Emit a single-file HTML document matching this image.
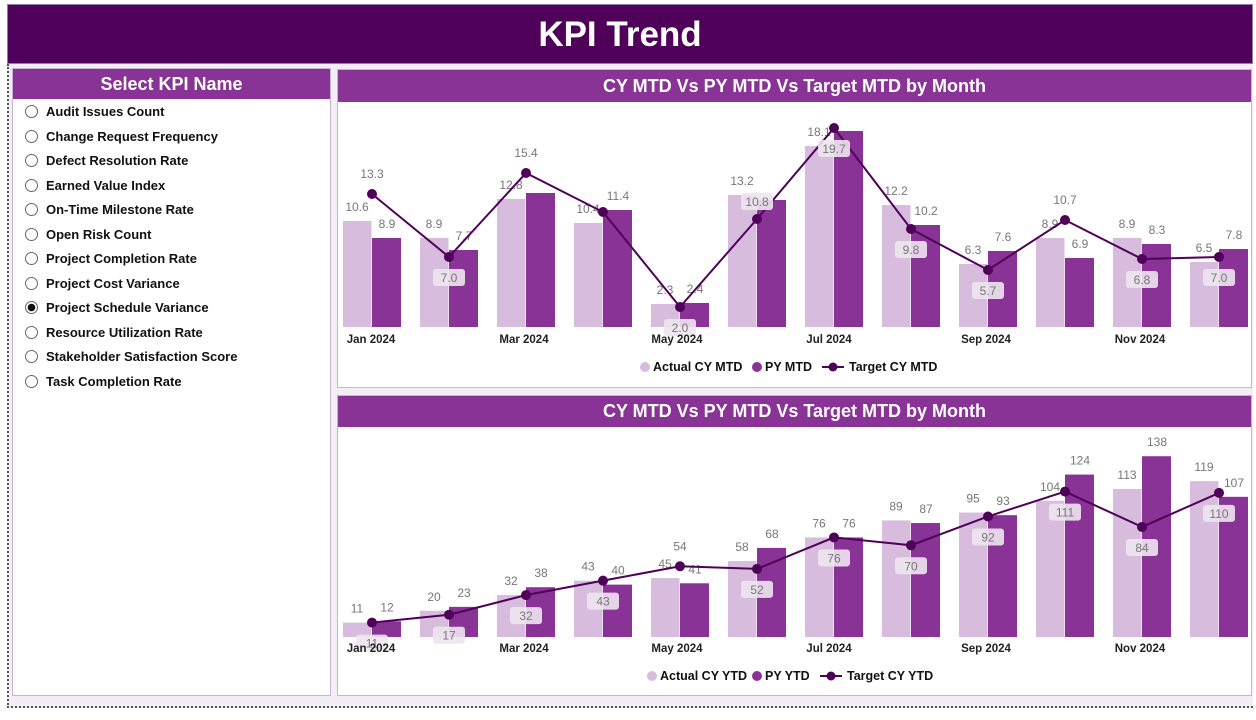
<!DOCTYPE html>
<html><head><meta charset="utf-8">
<style>
*{margin:0;padding:0;box-sizing:border-box}
body{width:1256px;height:720px;overflow:hidden;background:#fff;font-family:"Liberation Sans",sans-serif;position:relative}
#bg{position:absolute;left:7px;top:64px;width:1246px;height:644px;background:#F3EDF6;border-left:2px dotted #555;border-bottom:2px dotted #555}
#hdr{position:absolute;left:7px;top:4px;width:1246px;height:60px;background:#4F0058;border:1px solid #8a7fb0;color:#fff;font-weight:bold;font-size:35px;text-align:center;line-height:60px;text-indent:-20px}
.panel{position:absolute;background:#fff;border:1px solid #C9B3D3}
.ph{background:#8A3396;color:#fff;font-weight:bold;font-size:18px;text-align:center}
.item{position:absolute;left:18px;font-size:13px;font-weight:bold;color:#111}
.item i{position:absolute;left:-6px;top:1px;width:13px;height:13px;border:1px solid #666;border-radius:50%}
.item span{position:absolute;left:15px;top:0;white-space:nowrap}
svg text{font-family:"Liberation Sans",sans-serif}
</style></head><body>
<div id="bg"></div>
<div id="hdr">KPI Trend</div>
<div class="panel" style="left:12px;top:68px;width:319px;height:628px">
<div class="ph" style="height:30px;line-height:30px">Select KPI Name</div>
<div id="items"></div>
</div>
<div class="panel" style="left:337px;top:69px;width:915px;height:319px">
<div class="ph" style="height:32px;line-height:32px">CY MTD Vs PY MTD Vs Target MTD by Month</div></div>
<div class="panel" style="left:337px;top:395px;width:915px;height:301px">
<div class="ph" style="height:31px;line-height:31px">CY MTD Vs PY MTD Vs Target MTD by Month</div></div>
<svg id="s" width="1256" height="720" style="position:absolute;left:0;top:0"></svg>
<script>
var names=["Audit Issues Count","Change Request Frequency","Defect Resolution Rate","Earned Value Index","On-Time Milestone Rate","Open Risk Count","Project Completion Rate","Project Cost Variance","Project Schedule Variance","Resource Utilization Rate","Stakeholder Satisfaction Score","Task Completion Rate"];
var h="";names.forEach(function(n,i){var sel=i==8;h+='<div class="item" style="top:'+(35+i*24.5)+'px"><i style="'+(sel?'background:radial-gradient(circle,#111 0 3.5px,#fff 4px)':'')+'"></i><span>'+n+'</span></div>';});
document.getElementById("items").innerHTML=h;
var s="";var L="#D7BCDD",D="#8A3396",T="#4F0058";
function chart(base,sc,A,P,Tg,fmt,tl,xy,leg,PL,TL){
 var pts=[];
 for(var i=0;i<12;i++){var c=372+i*77;
  var ha=A[i]*sc,hp=P[i]*sc;
  s+='<rect x="'+(c-29)+'" y="'+(base-ha)+'" width="28.5" height="'+ha+'" fill="'+L+'"/>';
  s+='<rect x="'+c+'" y="'+(base-hp)+'" width="29" height="'+hp+'" fill="'+D+'"/>';
  s+='<text x="'+(c-15)+'" y="'+(base-ha-10)+'" font-size="12" fill="#777" text-anchor="middle">'+fmt(A[i])+'</text>';
  var pl=PL?PL[i]:fmt(P[i]);
  if(pl)s+='<text x="'+(c+15)+'" y="'+(base-hp-10)+'" font-size="12" fill="#777" text-anchor="middle">'+pl+'</text>';
  pts.push([c,base-Tg[i]*sc]);}
 s+='<polyline points="'+pts.map(function(p){return p.join(",")}).join(" ")+'" fill="none" stroke="'+T+'" stroke-width="2"/>';
 pts.forEach(function(p,i){s+='<circle cx="'+p[0]+'" cy="'+p[1]+'" r="5" fill="'+T+'"/>';
  var m=tl[i],t=TL?TL[i]:fmt(Tg[i]);
  if(m=="n")return;
  if(m=="a")s+='<text x="'+p[0]+'" y="'+(p[1]-16)+'" font-size="12" fill="#777" text-anchor="middle">'+t+'</text>';
  else{var dy=m=="u"?-26:12;s+='<rect x="'+(p[0]-16)+'" y="'+(p[1]+dy)+'" width="32" height="17" rx="3" fill="#EEE6F0" opacity=".9"/><text x="'+p[0]+'" y="'+(p[1]+dy+13)+'" font-size="12" fill="#777" text-anchor="middle">'+t+'</text>';}
 });
 [["Jan 2024",371],["Mar 2024",524],["May 2024",677],["Jul 2024",829],["Sep 2024",986],["Nov 2024",1140]].forEach(function(x){s+='<text x="'+x[1]+'" y="'+xy+'" font-size="11.5" font-weight="bold" fill="#222" text-anchor="middle">'+x[0]+'</text>';});
 var ly=xy+28;
 s+='<circle cx="'+(leg[0])+'" cy="'+(ly-4)+'" r="5" fill="'+L+'"/><text x="'+(leg[0]+8)+'" y="'+ly+'" font-size="12.5" font-weight="bold" fill="#111">'+leg[1]+'</text>';
 s+='<circle cx="'+leg[2]+'" cy="'+(ly-4)+'" r="5" fill="'+D+'"/><text x="'+(leg[2]+8)+'" y="'+ly+'" font-size="12.5" font-weight="bold" fill="#111">'+leg[3]+'</text>';
 s+='<line x1="'+leg[4]+'" x2="'+(leg[4]+22)+'" y1="'+(ly-4)+'" y2="'+(ly-4)+'" stroke="'+T+'" stroke-width="2"/><circle cx="'+(leg[4]+11)+'" cy="'+(ly-4)+'" r="4.5" fill="'+T+'"/><text x="'+(leg[4]+27)+'" y="'+ly+'" font-size="12.5" font-weight="bold" fill="#111">'+leg[5]+'</text>';
}
var f1=function(v){return v.toFixed(1)},f2=function(v){return String(Math.round(v))};
chart(327,10,[10.6,8.9,12.8,10.4,2.3,13.2,18.1,12.2,6.3,8.9,8.9,6.5],[8.9,7.7,13.4,11.7,2.4,12.7,19.6,10.2,7.6,6.9,8.3,7.8],
 [13.3,7.0,15.4,11.5,2.0,10.8,19.9,9.8,5.7,10.7,6.8,7.0],f1,["a","b","a","n","b","u","b","b","b","a","b","b"],343,[645,"Actual CY MTD",757,"PY MTD",822,"Target CY MTD"],
 ["8.9","7.7","","11.4","2.4","","","10.2","7.6","6.9","8.3","7.8"],["13.3","7.0","15.4","","2.0","10.8","19.7","9.8","5.7","10.7","6.8","7.0"]);
chart(637,1.31,[11,20,32,43,45,58,76,89,95,104,113,119],[12,23,38,40,41,68,76,87,93,124,138,107],
 [11,17,32,43,54,52,76,70,92,111,84,110],f2,["b","b","b","b","a","b","b","b","b","b","b","b"],652,[652,"Actual CY YTD",757,"PY YTD",820,"Target CY YTD"]);
document.getElementById("s").innerHTML=s;
</script>
</body></html>
